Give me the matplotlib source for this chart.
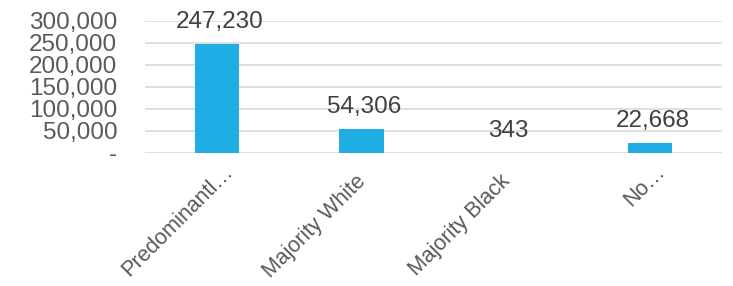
import matplotlib
matplotlib.use("Agg")
import matplotlib.pyplot as plt
import matplotlib.transforms as mtransforms
from matplotlib.ticker import FuncFormatter

categories = ["Predominantl…", "Majority White", "Majority Black", "No…"]
values = [247230, 54306, 343, 22668]
yticks = [0, 50000, 100000, 150000, 200000, 250000, 300000]

plt.rcParams['font.family'] = ['Liberation Sans', 'DejaVu Sans']

fig = plt.figure(figsize=(7.33, 2.86), dpi=100)
ax = fig.add_axes([145/733, 1-153/286, 577/733, 132/286])

x = range(len(categories))
ax.bar(x, values, width=0.31, color="#1FADE4", zorder=3)
for xi, v in zip(x, values):
    ax.annotate(f"{v:,}", (xi, v), xytext=(2, 8), textcoords="offset points",
                ha="center", va="bottom", fontsize=17.5, color="#404040")

ax.set_xlim(-0.5, len(categories) - 0.5)
ax.set_ylim(0, 300000)
ax.set_yticks(yticks)
ax.yaxis.set_major_formatter(FuncFormatter(lambda v, p: "-" if v == 0 else f"{int(v):,}"))
ax.grid(axis="y", color="#d9d9d9", linewidth=1.2, zorder=0)
for s in ax.spines.values():
    s.set_visible(False)
ax.tick_params(axis="both", length=0, labelsize=17.5, labelcolor="#595959")
ax.tick_params(axis="y", pad=20)
ax.set_xticks(list(x))
ax.set_xticklabels(categories, rotation=45, ha="right", rotation_mode="anchor", fontsize=15.5)
ax.tick_params(axis="x", pad=13)
for lbl in ax.get_xticklabels():
    if lbl.get_text().endswith("…"):
        off = mtransforms.ScaledTranslation(5/100, 10/100, fig.dpi_scale_trans)
    else:
        off = mtransforms.ScaledTranslation(-6/100, 0, fig.dpi_scale_trans)
    lbl.set_transform(lbl.get_transform() + off)

fig.savefig("out.png", dpi=100)
